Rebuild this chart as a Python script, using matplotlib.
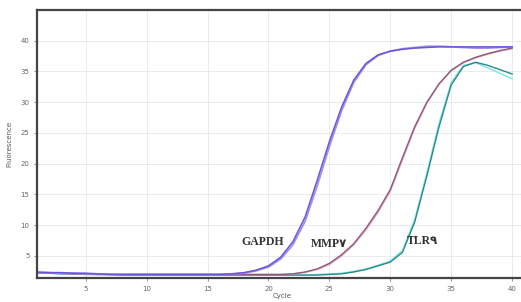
import numpy as np
import matplotlib.pyplot as plt

# Cycle numbers and fluorescence per cycle (two replicates per gene)
cycles = np.arange(1, 41)

gapdh_a = [2.4, 2.3, 2.3, 2.2, 2.2, 2.1, 2.0, 2.0, 2.0, 2.0,
           2.0, 2.0, 2.0, 2.0, 2.0, 2.0, 2.1, 2.3, 2.7, 3.4,
           4.8, 7.3, 11.3, 17.3, 23.6, 29.2, 33.6, 36.3, 37.7, 38.3,
           38.6, 38.8, 38.9, 39.0, 39.0, 39.0, 39.0, 39.0, 39.0, 39.0]
gapdh_b = [2.3, 2.3, 2.2, 2.2, 2.1, 2.1, 2.0, 2.0, 2.0, 2.0,
           2.0, 2.0, 2.0, 2.0, 2.0, 2.0, 2.1, 2.2, 2.6, 3.2,
           4.5, 6.8, 10.6, 16.4, 22.8, 28.6, 33.2, 36.1, 37.6, 38.3,
           38.7, 38.9, 39.1, 39.1, 39.0, 38.9, 38.8, 38.8, 38.9, 39.0]

mmp_a = [2.3, 2.2, 2.2, 2.1, 2.1, 2.0, 2.0, 2.0, 2.0, 2.0,
         2.0, 2.0, 2.0, 2.0, 2.0, 2.0, 2.0, 2.0, 2.0, 2.0,
         2.0, 2.1, 2.4, 2.9, 3.8, 5.2, 7.0, 9.5, 12.4, 15.8,
         21.0, 26.0, 30.0, 33.0, 35.2, 36.5, 37.3, 37.9, 38.4, 38.8]
mmp_b = [2.3, 2.2, 2.2, 2.1, 2.1, 2.0, 2.0, 2.0, 2.0, 2.0,
         2.0, 2.0, 2.0, 2.0, 2.0, 2.0, 2.0, 2.0, 2.0, 2.0,
         2.0, 2.1, 2.3, 2.8, 3.6, 5.0, 6.8, 9.2, 12.1, 15.5,
         20.6, 25.7, 29.8, 32.9, 35.1, 36.4, 37.2, 37.8, 38.3, 38.7]

tlr_a = [2.2, 2.2, 2.1, 2.1, 2.0, 2.0, 2.0, 1.9, 1.9, 1.9,
         1.9, 1.9, 1.9, 1.9, 1.9, 1.9, 1.9, 1.9, 1.9, 1.9,
         1.9, 1.9, 1.9, 1.9, 2.0, 2.1, 2.4, 2.8, 3.4, 4.0,
         5.6, 10.5, 18.0, 26.0, 32.8, 35.8, 36.5, 36.0, 35.3, 34.6]
tlr_b = [2.2, 2.2, 2.1, 2.1, 2.0, 2.0, 2.0, 1.9, 1.9, 1.9,
         1.9, 1.9, 1.9, 1.9, 1.9, 1.9, 1.9, 1.9, 1.9, 1.9,
         1.9, 1.9, 1.9, 2.0, 2.1, 2.2, 2.5, 2.9, 3.5, 4.2,
         5.9, 10.9, 18.5, 26.6, 33.2, 36.0, 36.4, 35.6, 34.7, 33.8]

genes = ["GAPDH", "MMP۷", "TLR۹"]
label_pos = [(19.5, 7.2), (25.0, 7.0), (32.6, 7.4)]

fig = plt.figure(figsize=(5.21, 3.02), dpi=100)
ax = fig.add_axes([0.071, 0.079, 0.94, 0.888])

ax.plot(cycles, tlr_b, color="#7fe3e3", lw=1.0)
ax.plot(cycles, tlr_a, color="#2a8a8a", lw=1.0)
ax.plot(cycles, mmp_b, color="#e0a8d8", lw=1.0)
ax.plot(cycles, mmp_a, color="#8e5a70", lw=1.0)
ax.plot(cycles, gapdh_b, color="#a58ff0", lw=1.3)
ax.plot(cycles, gapdh_a, color="#6a55d8", lw=1.1)

for name, (x, y) in zip(genes, label_pos):
    ax.text(x, y, name, ha="center", va="center", fontsize=8.5, fontweight="bold",
            color="#333333", family=["Liberation Serif", "DejaVu Sans"])

ax.set_xlim(1, 41.2)
ax.set_ylim(1.4, 45)
ax.set_xticks(range(5, 41, 5))
ax.set_yticks(range(5, 41, 5))
ax.grid(True, color="#e6e6ee", lw=0.6)
ax.tick_params(labelsize=5, colors="#666666", length=2, width=0.5)

for side in ["left", "bottom", "top"]:
    ax.spines[side].set_color("#444444")
    ax.spines[side].set_linewidth(1.6)
ax.spines["right"].set_visible(False)

ax.set_ylabel("Fluorescence", fontsize=5, color="#555555", labelpad=6)
ax.set_xlabel("Cycle", fontsize=5, color="#555555", labelpad=1)

fig.savefig("out.png", dpi=100)
